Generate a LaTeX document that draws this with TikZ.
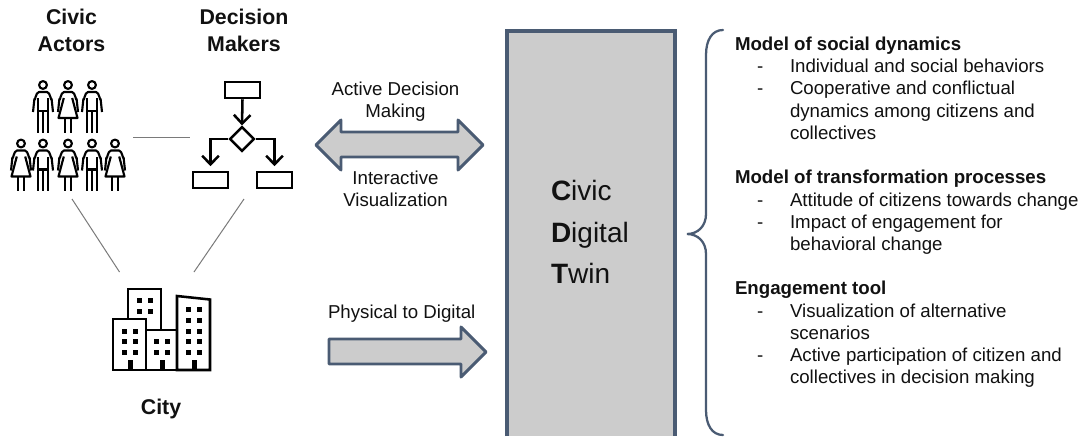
\documentclass[tikz,border=0pt]{standalone}
\usepackage{fontspec}
\setmainfont{Liberation Sans}
\usetikzlibrary{arrows.meta,shapes.geometric,calc}
\definecolor{slatec}{HTML}{4A5B73}
\definecolor{fillc}{HTML}{CCCCCC}
\definecolor{inkc}{HTML}{111111}
\definecolor{linkc}{HTML}{7A7A7A}
\tikzset{
  x=0.75pt,y=-0.75pt,
  txt/.style={inner sep=0pt,outer sep=0pt,text=inkc,font=\fontsize{14pt}{16pt}\selectfont},
  lft/.style={txt,anchor=base west},
  mid/.style={txt,anchor=base},
  headr/.style={txt,anchor=base,font=\fontsize{16pt}{18pt}\selectfont\bfseries},
  bold/.style={lft,font=\fontsize{14pt}{16pt}\selectfont\bfseries},
  cdtx/.style={lft,font=\fontsize{21pt}{24pt}\selectfont},
  blockarrow/.style={draw=slatec,fill=fillc,line width=2.2pt,line join=round},
  link/.style={draw=linkc,line width=0.75pt},
  icon/.style={draw=black,line width=1.9pt,line join=miter},
  fbox/.style={icon,rectangle,minimum width=26.2pt,minimum height=12pt,inner sep=0pt},
  fdia/.style={icon,diamond,minimum width=18.5pt,minimum height=18.5pt,inner sep=0pt,aspect=1},
  flow/.style={icon,-{Straight Barb[length=6.5pt,width=12.5pt,line width=1.9pt]}},
  personline/.style={draw=black,line width=1.6pt,line cap=butt,line join=round},
  man/.pic={
    \draw[personline] (0,0) circle (3.9);
    \draw[personline] (-10,27) -- (-8.6,14) to[out=-80,in=180] (-4,7) -- (4,7) to[out=0,in=-100] (8.6,14) -- (10,27);
    \draw[personline] (-4.6,27) -- (-4.6,13) (4.6,27) -- (4.6,13);
    \draw[personline] (-4.6,26) -- (4.6,26);
    \draw[personline] (-4.6,26) -- (-4.6,47.5) (0,26) -- (0,47.5) (4.6,26) -- (4.6,47.5);
  },
  woman/.pic={
    \draw[personline] (0,0) circle (3.9);
    \draw[personline] (-10,27) -- (-8.6,14) to[out=-80,in=180] (-4,7) -- (4,7) to[out=0,in=-100] (8.6,14) -- (10,27);
    \draw[personline] (-4.2,13) -- (-9.5,33) -- (9.5,33) -- (4.2,13) ;
    \draw[personline] (-3.4,33) -- (-3.4,47.5) (3.4,33) -- (3.4,47.5);
  },
  win/.style={fill=black,draw=none},
}
\begin{document}
\begin{tikzpicture}
\useasboundingbox (0,0) rectangle (1084,436);
\fill[white] (0,0) rectangle (1084,436);

% headers
\node[headr] (h1) at (71.5,24) {Civic};
\node[headr] (h2) at (71.5,51) {Actors};
\node[headr] (h3) at (244,24) {Decision};
\node[headr] (h4) at (244,51) {Makers};
\node[headr] (h5) at (161,414) {City};

% people
\pic at (43,85) {man};
\pic at (68,85) {woman};
\pic at (92,85) {man};
\pic at (21,143.5) {woman};
\pic at (43,143.5) {man};
\pic at (68,143.5) {woman};
\pic at (92,143.5) {man};
\pic at (115,143.5) {woman};

% flow chart icon
\node[fbox] (ftop) at (242.5,90) {};
\node[fdia] (fd) at (242,139) {};
\node[fbox] (fl) at (210.5,180) {};
\node[fbox] (fr) at (274.5,180) {};
\draw[flow] (ftop.south) -- (fd.north);
\draw[flow,shorten >=3.4pt] (fd.west) -| (fl.north);
\draw[flow,shorten >=3.4pt] (fd.east) -| (fr.north);

% city icon
\draw[icon] (128,319) -- (128,289) -- (161,289) -- (161,330);
\draw[icon] (113,370) rectangle (146,319);
\draw[icon] (146,370) rectangle (177,330);
\draw[icon] (177,370) -- (177,296) -- (210,299.5) -- (210,370) -- cycle;
\foreach \x in {139,150} \foreach \y in {300,311} \fill[win] (\x-2.5,\y-2.5) rectangle ++(5,5);
\foreach \x in {124,135} \foreach \y in {331,341.5,352} \fill[win] (\x-2.5,\y-2.5) rectangle ++(5,5);
\foreach \x in {156,167} \foreach \y in {341.5,352} \fill[win] (\x-2.5,\y-2.5) rectangle ++(5,5);
\foreach \x in {188,199} \foreach \y in {309,320,331,341.5,352} \fill[win] (\x-2.5,\y-2.5) rectangle ++(5,5);
\foreach \x in {130,162,194} \fill[win] (\x-2.5,360) rectangle ++(5,10);

% thin links
\coordinate (pplr) at (133,137);
\coordinate (dml) at (190,137);
\coordinate (pplb) at (72,199);
\coordinate (cityl) at (119.5,272);
\coordinate (dmb) at (244,199);
\coordinate (cityr) at (194,272);
\draw[link] (pplr) -- (dml);
\draw[link] (pplb) -- (cityl);
\draw[link] (dmb) -- (cityr);

% block arrows
\draw[blockarrow] (316,145) -- (341,120) -- (341,132) -- (458,132) -- (458,120) -- (483,145) -- (458,170) -- (458,157) -- (341,157) -- (341,170) -- cycle;
\draw[blockarrow] (329,339) -- (461,339) -- (461,327) -- (486,352) -- (461,377) -- (461,364) -- (329,364) -- cycle;

% arrow labels
\node[mid] (l1) at (395.5,95) {Active Decision};
\node[mid] (l2) at (395.5,117) {Making};
\node[mid] (l3) at (395.5,184) {Interactive};
\node[mid] (l4) at (395.5,206) {Visualization};
\node[lft] (l5) at (328,318) {Physical to Digital};

% CDT box
\fill[fillc] (507,31) rectangle (675,436);
\draw[slatec,line width=2.5pt,line join=miter] (507,436) -- (507,31) -- (675,31) -- (675,436);
\node[cdtx] (c1) at (551,200) {\textbf{C}ivic};
\node[cdtx] (c2) at (551,242) {\textbf{D}igital};
\node[cdtx] (c3) at (551,283) {\textbf{T}win};

% brace
\draw[slatec,line width=1.7pt,line cap=round] (723,30) .. controls (712,30) and (706,40) .. (706,55) -- (706,214) .. controls (706,226) and (698,234) .. (687,234) .. controls (698,234) and (706,242) .. (706,254) -- (706,410) .. controls (706,425) and (712,435) .. (723,435);

% right text
\node[bold] (t1) at (735,50) {Model of social dynamics};
\node[lft] (d1) at (757,72) {-};
\node[lft] (t2) at (790,72) {Individual and social behaviors};
\node[lft] (d2) at (757,94) {-};
\node[lft] (t3) at (790,94) {Cooperative and conflictual};
\node[lft] (t4) at (790,117) {dynamics among citizens and};
\node[lft] (t5) at (790,139) {collectives};
\node[bold] (t6) at (735,183) {Model of transformation processes};
\node[lft] (d3) at (757,206) {-};
\node[lft] (t7) at (790,206) {Attitude of citizens towards change};
\node[lft] (d4) at (757,228) {-};
\node[lft] (t8) at (790,228) {Impact of engagement for};
\node[lft] (t9) at (790,250) {behavioral change};
\node[bold] (t10) at (735,294) {Engagement tool};
\node[lft] (d5) at (757,317) {-};
\node[lft] (t11) at (790,317) {Visualization of alternative};
\node[lft] (t12) at (790,339) {scenarios};
\node[lft] (d6) at (757,361) {-};
\node[lft] (t13) at (790,361) {Active participation of citizen and};
\node[lft] (t14) at (790,383) {collectives in decision making};
\end{tikzpicture}
\end{document}
